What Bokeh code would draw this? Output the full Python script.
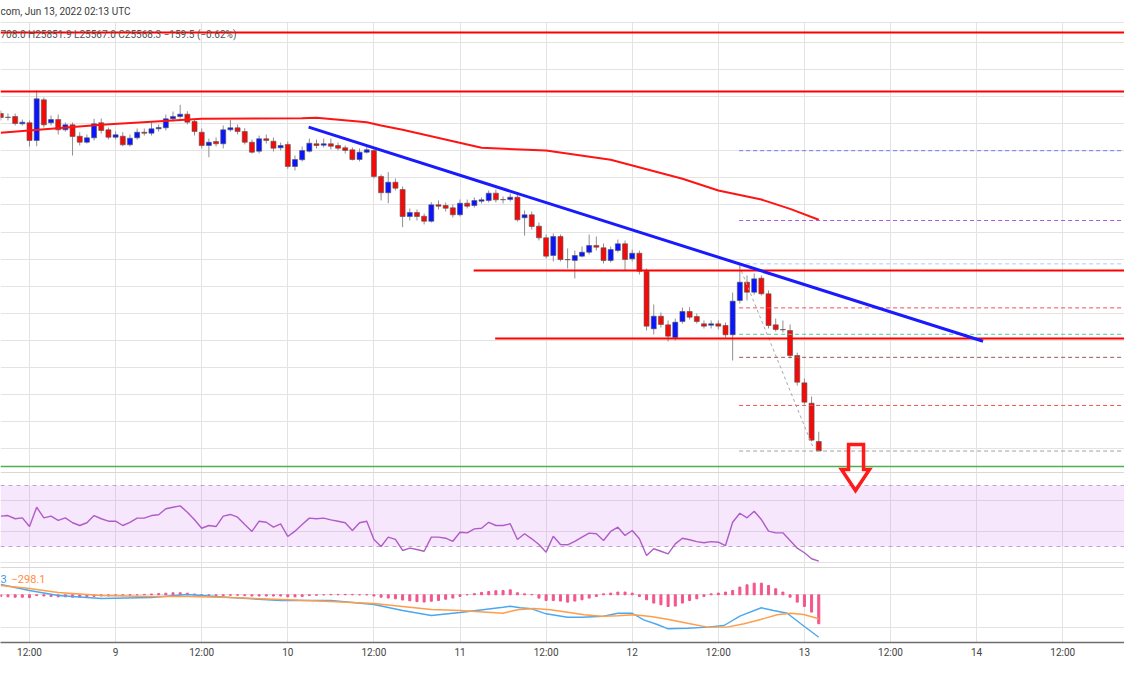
from bokeh.plotting import figure
from bokeh.models import Range1d, FixedTicker, Grid
from bokeh.core.properties import value
from bokeh.embed import file_html
from bokeh.resources import INLINE

# ---------------- data (hours since 2022-06-08 00:00 UTC, hourly candles) -------------
hours = list(range(8, 123))
opens = [30549, 30490, 30505, 30397, 30412, 30151, 30751, 30412, 30460, 30308,
         30382, 30214, 30125, 30190, 30412, 30308, 30199, 30214, 30087, 30190,
         30273, 30258, 30323, 30338, 30471, 30505, 30539, 30431, 30273, 30077,
         30136, 30102, 30308, 30338, 30283, 30125, 29993, 30176, 30140, 30043,
         30092, 29767, 29866, 29993, 30102, 30081, 30102, 30077, 30043, 30013,
         29870, 29978, 30003, 29619, 29379, 29535, 29427, 29029, 29088, 29033,
         28959, 29201, 29191, 29157, 29054, 29225, 29191, 29255, 29265, 29373,
         29280, 29280, 29314, 29010, 29054, 28886, 28714, 28453, 28734, 28394,
         28380, 28443, 28502, 28601, 28567, 28379, 28527, 28626, 28404, 28487,
         28221, 27371, 27557, 27430, 27243, 27479, 27627, 27553, 27445, 27424,
         27445, 27420, 27283, 27789, 28059, 27911, 28118, 27888, 27430, 27361,
         27346, 26977, 26574, 26273, 25708.0]
highs = [30593, 30549, 30549, 30460, 30446, 30889, 30785, 30520, 30534, 30416,
         30416, 30273, 30239, 30471, 30475, 30342, 30283, 30273, 30239, 30328,
         30328, 30421, 30387, 30534, 30579, 30677, 30583, 30460, 30328, 30180,
         30195, 30372, 30456, 30387, 30332, 30165, 30224, 30239, 30195, 30121,
         30136, 29929, 30062, 30180, 30165, 30180, 30180, 30121, 30077, 30047,
         30033, 30062, 30047, 29649, 29683, 29590, 29472, 29147, 29132, 29073,
         29240, 29265, 29236, 29206, 29280, 29280, 29309, 29309, 29413, 29427,
         29324, 29368, 29353, 29117, 29103, 28940, 28763, 28778, 28763, 28557,
         28527, 28586, 28763, 28734, 28630, 28586, 28689, 28675, 28542, 28527,
         28261, 27730, 27612, 27494, 27523, 27686, 27690, 27597, 27494, 27494,
         27494, 27464, 27907, 28306, 28158, 28188, 28158, 27937, 27523, 27494,
         27435, 27021, 26638, 26372, 25851.9]
lows = [30446, 30446, 30372, 30372, 30062, 30066, 30342, 30372, 30239, 30283,
        29929, 30077, 30106, 30151, 30254, 30165, 30165, 30066, 30062, 30165,
        30224, 30224, 30283, 30298, 30431, 30475, 30387, 30224, 30033, 29904,
        30062, 30033, 30283, 30239, 30092, 29959, 29959, 30106, 29988, 30003,
        29733, 29708, 29841, 29973, 30033, 30047, 30018, 30003, 29959, 29855,
        29841, 29959, 29590, 29265, 29225, 29413, 28871, 28970, 28970, 28911,
        28940, 29132, 29102, 29014, 29029, 29147, 29161, 29221, 29236, 29236,
        29221, 29250, 28955, 28748, 28837, 28675, 28409, 28365, 28365, 28261,
        28114, 28424, 28468, 28527, 28335, 28350, 28498, 28232, 28365, 28173,
        27346, 27287, 27390, 27184, 27198, 27449, 27508, 27449, 27376, 27376,
        27361, 27243, 26903, 27745, 27789, 27877, 27863, 27376, 27332, 27317,
        26933, 26534, 26254, 25708, 25567.0]
closes = [30490, 30495, 30401, 30421, 30151, 30766, 30382, 30460, 30308, 30382,
          30210, 30125, 30190, 30397, 30298, 30199, 30235, 30087, 30185, 30273,
          30258, 30323, 30342, 30471, 30505, 30539, 30421, 30283, 30077, 30125,
          30102, 30308, 30338, 30283, 30125, 29978, 30176, 30151, 30037, 30077,
          29767, 29870, 30003, 30111, 30077, 30102, 30066, 30037, 30003, 29870,
          29978, 30013, 29619, 29379, 29535, 29447, 29029, 29088, 29029, 28959,
          29201, 29181, 29151, 29054, 29225, 29181, 29265, 29275, 29373, 29275,
          29275, 29314, 28980, 29054, 28881, 28714, 28443, 28734, 28394, 28389,
          28453, 28502, 28601, 28576, 28379, 28542, 28626, 28394, 28487, 28221,
          27410, 27557, 27435, 27262, 27469, 27627, 27542, 27479, 27410, 27445,
          27410, 27283, 27779, 28059, 27911, 28109, 27888, 27420, 27361, 27356,
          26977, 26583, 26288, 25728, 25568.3]

rsi = [50.0, 50.4, 48.3, 48.9, 43.2, 55.8, 48.9, 50.0, 47.2, 48.9,
       45.7, 43.9, 45.7, 50.4, 48.3, 46.7, 46.7, 43.9, 46.0, 48.7,
       48.7, 50.4, 50.9, 54.8, 55.8, 56.7, 52.6, 47.6, 42.1, 43.9,
       43.2, 50.0, 51.1, 49.3, 44.5, 40.0, 46.7, 46.0, 42.8, 45.0,
       36.7, 40.2, 44.5, 48.7, 48.3, 48.7, 47.6, 46.7, 45.7, 40.6,
       45.7, 46.7, 34.8, 30.2, 36.3, 34.8, 27.6, 29.1, 28.2, 27.1,
       36.3, 36.3, 35.6, 33.6, 39.5, 39.1, 41.7, 42.1, 46.0, 43.9,
       43.9, 45.0, 34.8, 38.5, 35.2, 31.5, 26.5, 36.9, 31.5, 31.3,
       33.6, 36.3, 38.9, 38.5, 34.1, 40.0, 42.8, 37.4, 40.6, 35.2,
       24.3, 28.7, 27.1, 25.4, 31.9, 35.6, 34.6, 33.4, 32.6, 33.4,
       33.0, 30.8, 46.0, 51.9, 48.9, 53.2, 47.8, 40.2, 39.1, 39.1,
       34.1, 29.1, 26.1, 22.2, 20.6]

macd_hist = [-20, -25, -30, -30, -35, -10, -15, -20, -25, -25,
             -30, -30, -25, -20, -15, -15, -10, -10, -5, 0,
             5, 10, 15, 20, 25, 25, 20, 10, 0, -5,
             -10, -10, -5, -5, -10, -15, -15, -15, -15, -15,
             -25, -25, -20, -10, -5, 0, 5, 5, 5, 5,
             0, 0, -15, -30, -40, -50, -65, -75, -85, -90,
             -80, -70, -55, -40, -20, 0, 15, 30, 40, 50,
             53, 62, 25, 12, 4, -41, -71, -71, -78, -91,
             -78, -62, -41, -21, 12, 21, 34, 34, 21, -21,
             -62, -103, -124, -145, -140, -103, -71, -50, -21, 12,
             21, 34, 53, 96, 124, 145, 145, 116, 75, 34,
             -29, -91, -145, -215, -360]

macd_hours = [8, 12, 16, 22, 29, 34, 40, 47, 54, 60, 64, 68, 72, 78, 79, 80.4, 82, 84,
              87, 89, 92, 94, 96, 97.6, 99.5, 101, 103.7, 106.5, 108.8, 111, 114,
              115.7, 117.6, 119.5, 122]
macd_line = [128, 53, -9, -46, -34, 4, -34, -71, -71, -120, -195, -257, -220, -154,
             -142, -161, -174, -236, -278, -278, -266, -229, -229, -311, -369, -422,
             -415, -402, -381, -266, -161, -195, -229, -360, -527]
signal_hours = [8, 12, 16, 22, 29, 34, 40, 47, 54, 60, 64, 68, 72, 78, 80, 82.3, 84.6,
                87, 89.3, 91.7, 94, 96.2, 98.6, 100.9, 103.7, 106.5, 109.2, 111.6,
                113.9, 116.2, 118.1, 119.9, 122]
signal_line = [116, 78, 29, -9, -21, -21, -34, -58, -83, -108, -145, -183, -195, -229,
               -186, -170, -186, -216, -248, -266, -261, -248, -270, -303, -353, -402,
               -402, -360, -307, -248, -229, -245, -298]

ma_hours = [8, 22, 36, 50, 52, 59, 61, 64, 75, 84, 93, 103, 108, 114, 118, 122]
ma_values = [30264, 30382, 30471, 30480, 30486, 30421, 30372, 30309, 30043, 30003,
             29866, 29585, 29413, 29280, 29142, 28980]

resistance_full = [31745, 30874]
resistance_part_hours = [73.9, 76.9]
resistance_part = [28232, 27228]
support_level = [25339]
trend_hours = [50.9, 144.9]
trend_prices = [30347, 27188]
fib_start = 110.9
fib_levels = [25567, 26240, 26950, 27290, 27680, 28330, 28970, 30000]
fib_colors = ["#a0a0a0", "#ef5350", "#9b5a55", "#45cfa0", "#ef5350", "#9fd3f5",
              "#a35de0", "#7676ee"]
fib_swing_hours = [110.9, 121.3]
fib_swing_prices = [28306, 25600]

tick_hours = [12, 24, 36, 48, 60, 72, 84, 96, 108, 120, 132, 144, 156]
tick_labels = ["12:00", "9", "12:00", "10", "12:00", "11", "12:00", "12", "12:00",
               "13", "12:00", "14", "12:00"]
price_grid = [25600, 26000, 26400, 26800, 27200, 27600, 28000, 28400, 28800, 29200,
              29600, 30000, 30400, 30800, 31200, 31600]
rsi_grid = [20, 40, 60]
macd_grid = [0, -400]

# ---------------- figure ---------------------------------------------------------------
FONT = value("Roboto")
p = figure(frame_width=1124, frame_height=642, output_backend="svg", toolbar_location=None,
           x_range=Range1d(7.958, 164.61), y_range=Range1d(22741, 32217),
           y_axis_location=None, min_border_left=0, min_border_right=0,
           min_border_top=0, min_border_bottom=30)
p.extra_y_ranges = {"rsi": Range1d(-32.48, 386.6), "macd": Range1d(-592.4, 7381.2)}
p.outline_line_color = None
p.background_fill_color = "white"
p.border_fill_color = "white"

GRID_C = "#e3e3e3"
for g in p.xgrid:
    g.visible = False
for g in p.ygrid:
    g.visible = False
p.add_layout(Grid(dimension=0, ticker=FixedTicker(ticks=tick_hours),
                  cross_bounds=(22741, 31892), grid_line_color=GRID_C, grid_line_width=1))
p.add_layout(Grid(dimension=1, ticker=FixedTicker(ticks=price_grid),
                  grid_line_color=GRID_C, grid_line_width=1))
p.add_layout(Grid(dimension=1, ticker=FixedTicker(ticks=rsi_grid), y_range_name="rsi",
                  grid_line_color=GRID_C, grid_line_width=1))
p.add_layout(Grid(dimension=1, ticker=FixedTicker(ticks=macd_grid), y_range_name="macd",
                  grid_line_color=GRID_C, grid_line_width=1))

ax = p.xaxis[0]
ax.ticker = FixedTicker(ticks=tick_hours)
ax.major_label_overrides = {h: l for h, l in zip(tick_hours, tick_labels)}
ax.axis_line_color = "#6e6e6e"
ax.axis_line_width = 1.5
ax.major_tick_line_color = None
ax.minor_tick_line_color = None
ax.major_tick_out = 0
ax.major_tick_in = 0
ax.minor_tick_out = 0
ax.major_label_text_font = "Roboto"
ax.major_label_text_font_size = "10px"
ax.major_label_text_color = "#444444"
ax.major_label_standoff = 4

# pane borders
p.hspan(y=[31892], line_color="#e3e3e3", line_width=1)
p.hspan(y=[25250], line_color="#d8d8d8", line_width=1)
p.hspan(y=[343], y_range_name="macd", line_color="#d8d8d8", line_width=1)

# RSI band
p.hstrip(y0=[30], y1=[70], y_range_name="rsi", fill_color="#c060f0", fill_alpha=0.15,
         line_alpha=0)
p.hspan(y=[30, 70], y_range_name="rsi", line_color="#bba6cf", line_width=1,
        line_dash="4 4")
p.line(hours, rsi, y_range_name="rsi", line_color="#b05cc6", line_width=1.4)

# MACD
p.vbar(x=hours, top=macd_hist, bottom=0, width=0.28, y_range_name="macd",
       fill_color="#f3558c", line_color="#f3558c")
p.line(macd_hours, macd_line, y_range_name="macd", line_color="#4aa8f0", line_width=1.4)
p.line(signal_hours, signal_line, y_range_name="macd", line_color="#ff9d4a",
       line_width=1.4)
p.text(x=[7.958], y=[202], text=["3"], y_range_name="macd", text_font=FONT,
       text_font_size="11px", text_color="#3a9de8", text_baseline="middle")
p.text(x=[9.49], y=[202], text=["\u2212298.1"], y_range_name="macd", text_font=FONT,
       text_font_size="11px", text_color="#ff8c42", text_baseline="middle")

# candles
up = [c >= o for o, c in zip(opens, closes)]
body_top = [max(o, c) for o, c in zip(opens, closes)]
body_bot = [min(o, c) for o, c in zip(opens, closes)]
colors = ["#0a14ff" if u else "#f50a0a" for u in up]
p.segment(x0=hours, y0=lows, x1=hours, y1=highs, line_color="#8f8f8f", line_width=1)
p.vbar(x=hours, top=body_top, bottom=body_bot, width=0.7, fill_color=colors,
       line_color="#555555", line_width=0.6)

# moving average
p.line(ma_hours, ma_values, line_color="#ff1414", line_width=2)

# fib levels and swing
p.ray(x=[fib_start] * len(fib_levels), y=fib_levels, length=0, angle=0,
      line_color=fib_colors, line_width=1, line_dash="4 3")
p.line(fib_swing_hours, fib_swing_prices, line_color="#a8a8a8", line_width=1,
       line_dash="3 3")

# horizontal levels
p.hspan(y=resistance_full, line_color="#ff0000", line_width=2)
p.ray(x=resistance_part_hours, y=resistance_part, length=0, angle=0,
      line_color="#ff0000", line_width=2)
p.hspan(y=support_level, line_color="#4caf50", line_width=1.5)

# header texts
p.text(x=[7.958], y=[32055], text=["com, Jun 13, 2022 02:13 UTC"], text_font=FONT,
       text_font_size="10px", text_color="#3a3a3a", text_baseline="middle")
p.text(x=[7.958], y=[31712],
       text=["708.0  H25851.9  L25567.0  C25568.3  \u2212159.5 (\u22120.62%)"],
       text_font=FONT, text_font_size="10px", text_color="#555555", text_baseline="middle")

# trend line
p.line(trend_hours, trend_prices, line_color="#1a1aff", line_width=3)

# down arrow annotation
p.patch(x=[126.15, 128.24, 128.24, 129.07, 127.12, 125.17, 126.15],
        y=[25664, 25664, 25295, 25295, 24985, 25295, 25295],
        fill_alpha=0, line_color="#ff1a1a", line_width=3.5, line_join="miter")

open("out.html", "w").write(file_html(p, INLINE))
